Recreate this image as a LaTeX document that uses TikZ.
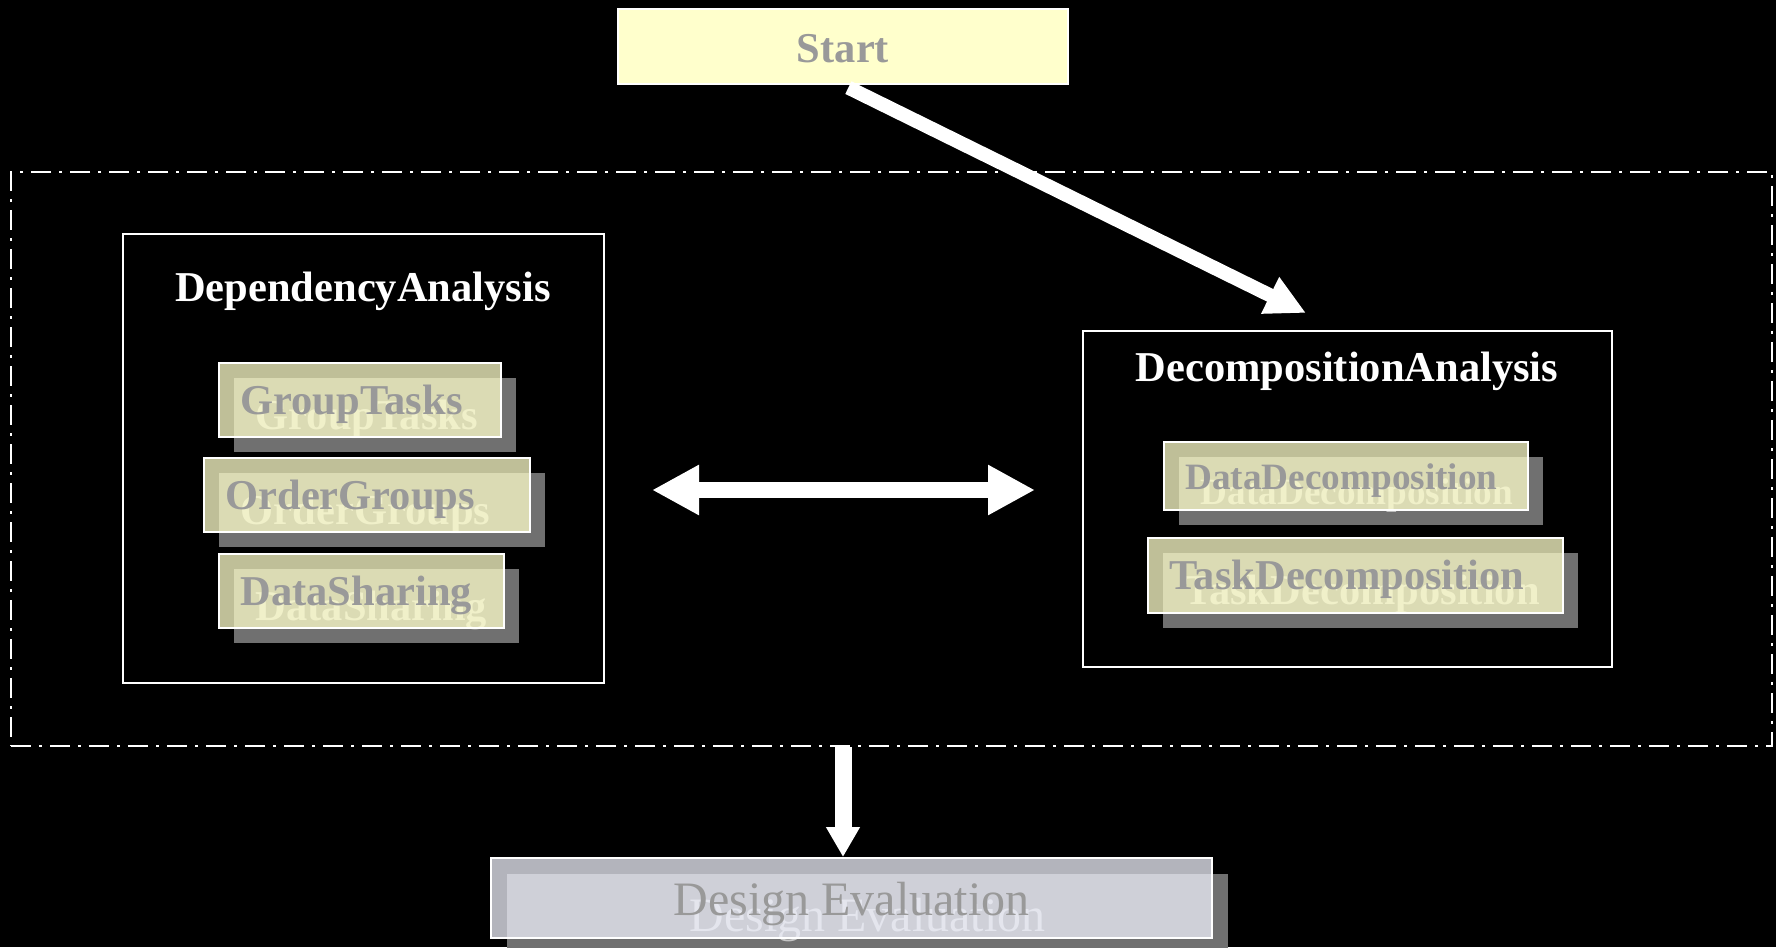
\documentclass[tikz,border=0pt]{standalone}
\usepackage{fontspec}
\setmainfont{Liberation Serif}
\usetikzlibrary{arrows.meta}
\definecolor{pale}{HTML}{FFFFCC}
\definecolor{labelgray}{HTML}{999999}
\definecolor{shadowgray}{HTML}{707070}
\definecolor{ghost}{HTML}{C4C4C4}
\definecolor{evalfill}{RGB}{239,241,252}
\newcommand\headfont{\fontsize{42.5pt}{50pt}\selectfont\bfseries}
\newcommand\smallhead{\fontsize{37.2pt}{44pt}\selectfont\bfseries}
\newcommand\evalfont{\fontsize{48pt}{56pt}\selectfont}
\begin{document}
\begin{tikzpicture}[x=1pt,y=-1pt,
  outer/.style={draw=white,line width=2pt,inner sep=0pt},
  shade/.style={fill=shadowgray,text=ghost,anchor=west,inner ysep=0pt,inner xsep=21.5pt,align=left,text height=32pt,text depth=4pt},
  item/.style={draw=white,line width=2pt,fill=pale,fill opacity=.75,text opacity=1,text=labelgray,anchor=west,inner ysep=0pt,inner xsep=21.5pt,align=left,text height=32pt,text depth=4pt}]
\useasboundingbox (0,0) rectangle (1776,947);
\fill[black] (0,0) rectangle (1776,947);
% phase frame
\node[outer,dash pattern=on 20pt off 8pt on 3pt off 8pt,minimum width=1761pt,minimum height=574pt] (phase) at (891.5,459) {};
% start
\node[outer,fill=pale,text=labelgray,font=\headfont,minimum width=450pt,minimum height=75pt,text height=33pt,text depth=0pt] (start) at (843,46.5) {Start};
% dependency analysis
\node[outer,minimum width=481pt,minimum height=449pt] (depbox) at (363.5,458.5) {};
\node[text=white,font=\headfont,anchor=base] (deptitle) at (363,301) {DependencyAnalysis};
\node[shade,font=\headfont,text width=239pt,minimum height=74pt] at (234,415) {GroupTasks};
\node[item,font=\headfont,text width=239pt,minimum height=74pt] (group) at (218,400) {GroupTasks};
\node[shade,font=\headfont,text width=283pt,minimum height=74pt] at (219,510) {OrderGroups};
\node[item,font=\headfont,text width=283pt,minimum height=74pt] (order) at (203,495) {OrderGroups};
\node[shade,font=\headfont,text width=242pt,minimum height=74pt] at (234,606) {DataSharing};
\node[item,font=\headfont,text width=242pt,minimum height=74pt] (share) at (218,591) {DataSharing};
% decomposition analysis
\node[outer,minimum width=529pt,minimum height=336pt] (decbox) at (1347.5,499) {};
\node[text=white,font=\headfont,anchor=base] (dectitle) at (1347,381) {DecompositionAnalysis};
\node[shade,font=\smallhead,text width=321pt,minimum height=68pt,text height=29pt,text depth=3pt] at (1179,491) {DataDecomposition};
\node[item,font=\smallhead,text width=321pt,minimum height=68pt,text height=29pt,text depth=3pt] (datadec) at (1163,476) {DataDecomposition};
\node[shade,font=\headfont,text width=372pt,minimum height=75pt] at (1163,590.5) {TaskDecomposition};
\node[item,font=\headfont,text width=372pt,minimum height=75pt] (taskdec) at (1147,575.5) {TaskDecomposition};
% design evaluation
\node[shade,anchor=center,font=\evalfont,align=center,inner sep=0pt,minimum width=721pt,minimum height=80pt,text height=36pt,text depth=2pt] at (867.5,914) {Design Evaluation};
\node[item,fill=evalfill,anchor=center,font=\evalfont,align=center,inner sep=0pt,minimum width=721pt,minimum height=80pt,text height=36pt,text depth=2pt] (design) at (851.5,898) {Design Evaluation};
% arrows
\coordinate (dectip) at (1306,313);
\coordinate (lefttip) at (652,490);
\coordinate (righttip) at (1035,490);
\draw[white,line width=14pt,-{Triangle[length=40pt,width=38pt]},shorten <=6pt] (start.south) -- (dectip);
\draw[white,line width=16pt,{Triangle[length=47pt,width=47pt]}-{Triangle[length=47pt,width=47pt]}] (lefttip) -- (righttip);
\draw[white,line width=17pt,-{Triangle[length=30pt,width=32pt]}] (phase.south -| start.south) -- (design.north -| start.south);
\end{tikzpicture}
\end{document}
